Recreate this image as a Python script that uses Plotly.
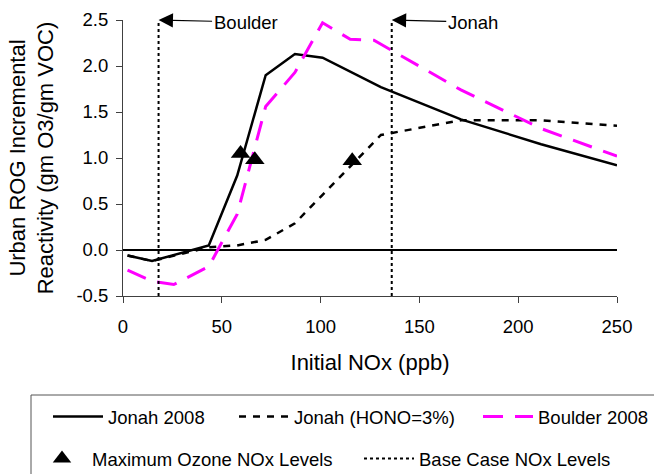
import plotly.graph_objects as go

# ---- data ----
jonah_x = [2.3, 14.7, 43.4, 57.8, 72.2, 87.0, 101.0, 130.5, 171.0, 211.6, 250.0]
jonah_y = [-0.06, -0.12, 0.05, 0.81, 1.90, 2.13, 2.09, 1.77, 1.42, 1.15, 0.92]

hono_x = [2.3, 14.7, 43.4, 57.8, 72.2, 87.0, 101.0, 130.5, 171.0, 211.6, 250.0]
hono_y = [-0.06, -0.12, 0.03, 0.05, 0.11, 0.29, 0.60, 1.25, 1.41, 1.41, 1.35]

boulder_x = [2.3, 14.7, 25.7, 43.4, 57.8, 72.2, 87.0, 101.0, 115.0, 127.0, 171.0, 211.6, 250.0]
boulder_y = [-0.22, -0.34, -0.375, -0.18, 0.39, 1.56, 1.93, 2.47, 2.29, 2.28, 1.74, 1.32, 1.02]

maxo3_x = [59.5, 66.7, 116.0]
maxo3_y = [1.05, 0.98, 0.97]

base_case_x = [18.0, 136.0]
base_case_labels = ["Boulder", "Jonah"]
y_min, y_max = -0.5, 2.5

x_ticks = [0, 50, 100, 150, 200, 250]
y_ticks = [-0.5, 0.0, 0.5, 1.0, 1.5, 2.0, 2.5]
y_ticktext = [f"{v:.1f}" for v in y_ticks]

FONT = "Liberation Sans, Arial, sans-serif"
FS = 18.5

fig = go.Figure()

fig.add_trace(go.Scatter(x=jonah_x, y=jonah_y, mode="lines", name="Jonah 2008",
                         line=dict(color="black", width=2.5), legend="legend"))
fig.add_trace(go.Scatter(x=hono_x, y=hono_y, mode="lines", name="Jonah (HONO=3%)",
                         line=dict(color="black", width=2.5, dash="7px,7px"), legend="legend2"))
fig.add_trace(go.Scatter(x=boulder_x, y=boulder_y, mode="lines", name="Boulder 2008",
                         line=dict(color="#FF00FF", width=3, dash="20px,12px"), legend="legend3"))
fig.add_trace(go.Scatter(x=maxo3_x, y=maxo3_y, mode="markers", name="Maximum Ozone NOx Levels",
                         marker=dict(symbol="triangle-up", size=17, color="black"), legend="legend4"))

vx, vy = [], []
for xv in base_case_x:
    vx += [xv, xv, None]
    vy += [y_min, y_max, None]
fig.add_trace(go.Scatter(x=vx, y=vy, mode="lines", name="Base Case NOx Levels",
                         line=dict(color="black", width=2, dash="3px,3px"), legend="legend5"))

for xv, lab in zip(base_case_x, base_case_labels):
    fig.add_annotation(x=xv, y=y_max, xref="x", yref="y", text=lab, showarrow=True,
                       arrowhead=2, arrowsize=2.4, arrowwidth=1.2, arrowcolor="black",
                       ax=(87 if lab == "Boulder" else 81), ay=2,
                       font=dict(family=FONT, size=FS, color="black"))

L, R, T, B = 123, 37, 20, 178
W, H = 654, 474
pw, ph = W - L - R, H - T - B

def px2x(p):
    return (p - L) / pw

def py2y(p):
    return (H - B - p) / ph

leg_common = dict(orientation="h", xanchor="left", yanchor="middle", itemwidth=50,
                  bgcolor="rgba(0,0,0,0)", borderwidth=0,
                  font=dict(family=FONT, size=FS, color="black"))
row1, row2 = py2y(417), py2y(459)

fig.update_layout(
    width=W, height=H,
    margin=dict(l=L, r=R, t=T, b=B, autoexpand=False),
    paper_bgcolor="white", plot_bgcolor="white",
    font=dict(family=FONT, size=FS, color="black"),
    showlegend=True,
    legend=dict(x=px2x(48), y=row1, **leg_common),
    legend2=dict(x=px2x(234), y=row1, **leg_common),
    legend3=dict(x=px2x(478), y=row1, **leg_common),
    legend4=dict(x=px2x(32), y=row2, **leg_common),
    legend5=dict(x=px2x(359), y=row2, **leg_common),
    xaxis=dict(range=[0, 250], tickvals=x_ticks, ticks="outside", ticklen=6,
               tickcolor="#404040", showline=True, linecolor="#404040", linewidth=1,
               showgrid=False, zeroline=False, ticklabelstandoff=8, automargin=False,
               title=dict(text="Initial NOx (ppb)", standoff=18)),
    yaxis=dict(range=[y_min, y_max], tickvals=y_ticks, ticktext=y_ticktext, ticks="outside",
               ticklen=6, tickcolor="#404040", showline=True, linecolor="#404040", linewidth=1,
               showgrid=False, zeroline=True, zerolinecolor="black", zerolinewidth=1.5,
               ticklabelstandoff=4, automargin=False,
               title=dict(text="Urban ROG Incremental<br>Reactivity (gm O3/gm VOC)", standoff=16)),
)

fig.add_shape(type="rect", xref="paper", yref="paper",
              x0=px2x(31), x1=px2x(700), y0=py2y(395), y1=py2y(520),
              line=dict(color="#555555", width=1), fillcolor="rgba(0,0,0,0)")

fig.write_html("out.html", config={"displayModeBar": False},
               post_script="document.body.style.margin='0';")
